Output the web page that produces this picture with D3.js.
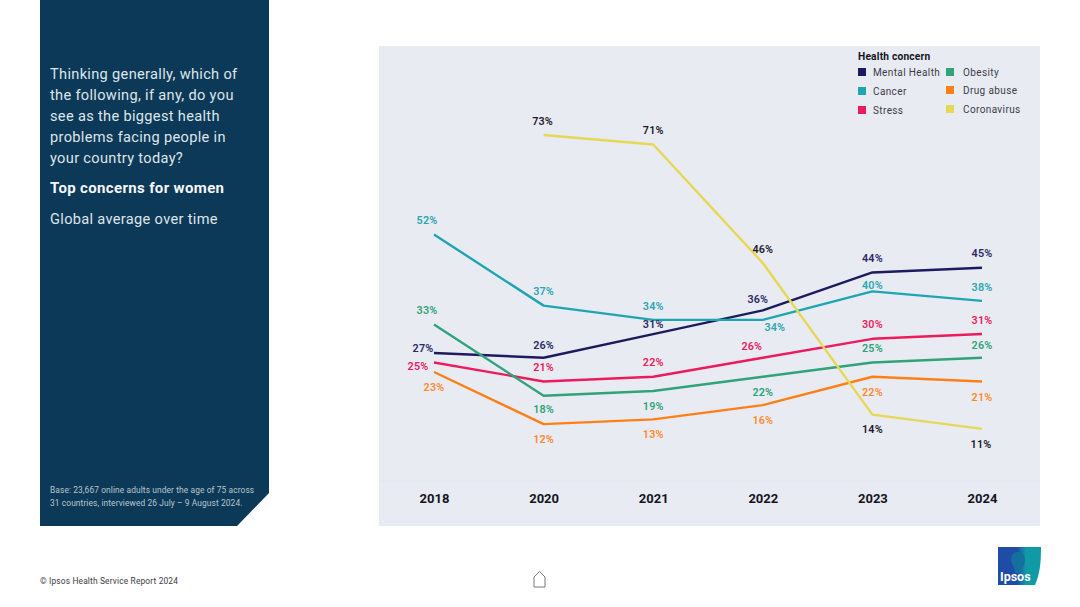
<!DOCTYPE html>
<html>
<head>
<meta charset="utf-8">
<title>Top concerns for women</title>
<script src="https://cdn.jsdelivr.net/npm/d3@7"></script>
<style>
  html, body { margin: 0; background: #fff; }
  svg { display: block; }
  text { font-family: Roboto, "Noto Sans", sans-serif; }
</style>
</head>
<body>
<svg id="chart" width="1080" height="607"></svg>
<script>
const years = ["2018", "2020", "2021", "2022", "2023", "2024"];

const mentalHealth = [27, 26, 31, 36, 44, 45];
const cancer = [52, 37, 34, 34, 40, 38];
const stress = [25, 21, 22, 26, 30, 31];
const obesity = [33, 18, 19, 22, 25, 26];
const drugAbuse = [23, 12, 13, 16, 22, 21];
const coronavirus = [null, 73, 71, 46, 14, 11];

const questionLines = [
  "Thinking generally, which of",
  "the following, if any, do you",
  "see as the biggest health",
  "problems facing people in",
  "your country today?"
];
const baseLines = [
  "Base: 23,667 online adults under the age of 75 across",
  "31 countries, interviewed 26 July – 9 August 2024."
];

const series = [
  { name: "Mental Health", values: mentalHealth, color: "#1c1b5e", label: "#2a2965" },
  { name: "Cancer", values: cancer, color: "#1fa5b2", label: "#2ba6b2" },
  { name: "Stress", values: stress, color: "#ec1c5c", label: "#ec1c5c" },
  { name: "Obesity", values: obesity, color: "#2ea478", label: "#2ea478" },
  { name: "Drug abuse", values: drugAbuse, color: "#ff7f17", label: "#ff8a2a" },
  { name: "Coronavirus", values: coronavirus, color: "#e6d854", label: "#1a1a2a" }
];

// label nudges from the point, one [dx, dy] per year
const labelNudge = {
  "Mental Health": [[-11, -5], [0, -13], [0, -10], [-5, -11], [0, -14], [0, -14]],
  "Cancer": [[-7, -14], [0, -14], [0, -14], [12, 7], [0, -6], [0, -14]],
  "Stress": [[-16, 4], [0, -14], [0, -15], [-11, -12], [0, -15], [0, -14]],
  "Obesity": [[-7, -14], [0, 14], [0, 15], [0, 15], [0, -14], [0, -13]],
  "Drug abuse": [[0, 15], [0, 15], [0, 15], [0, 15], [0, 15], [0, 16]],
  "Coronavirus": [null, [-1, -14], [0, -14], [0, -14], [0, 15], [-1, 15]]
};

const svg = d3.select("#chart");

// left panel with the cut corner
svg.append("path")
  .attr("d", d3.line()([[40, 0], [269, 0], [269, 493], [237, 526], [40, 526]]) + "Z")
  .attr("fill", "#0c3957");

svg.append("g").selectAll("text").data(questionLines).join("text")
  .attr("x", 50)
  .attr("y", (d, i) => 79 + i * 21.1)
  .attr("font-size", 14.6)
  .attr("letter-spacing", 0.32)
  .attr("fill", "#dfe5ea")
  .text(d => d);

svg.append("text")
  .attr("x", 50).attr("y", 193)
  .attr("font-size", 15)
  .attr("font-weight", 700)
  .attr("letter-spacing", 0.35)
  .attr("fill", "#f4f6f8")
  .text("Top concerns for women");

svg.append("text")
  .attr("x", 50).attr("y", 224)
  .attr("font-size", 14.6)
  .attr("letter-spacing", 0.32)
  .attr("fill", "#dfe5ea")
  .text("Global average over time");

svg.append("g").selectAll("text").data(baseLines).join("text")
  .attr("x", 50)
  .attr("y", (d, i) => 493 + i * 13)
  .attr("font-size", 8.4)
  .attr("letter-spacing", 0.1)
  .attr("fill", "#b9c6d1")
  .text(d => d);

// plot background
svg.append("rect")
  .attr("x", 379).attr("y", 46)
  .attr("width", 661).attr("height", 480)
  .attr("fill", "#e9ebf3");

const x = d3.scalePoint().domain(years).range([434, 982]);
const y = d3.scaleLinear().domain([0, 73]).range([481, 135]);

svg.append("line")
  .attr("x1", 379).attr("x2", 1040)
  .attr("y1", y(0)).attr("y2", y(0))
  .attr("stroke", "#e4e6ef");

const axis = svg.append("g")
  .attr("transform", `translate(0,${y(0)})`)
  .call(d3.axisBottom(x).tickSize(0).tickPadding(12.5));
axis.select(".domain").remove();
axis.selectAll("text")
  .attr("font-size", 13)
  .attr("font-weight", 700)
  .attr("fill", "#14141e")
  .style("font-family", "Roboto, sans-serif");

const line = d3.line()
  .defined(d => d !== null)
  .x((d, i) => x(years[i]))
  .y(d => y(d));

svg.append("g").selectAll("path").data(series).join("path")
  .attr("d", d => line(d.values))
  .attr("fill", "none")
  .attr("stroke", d => d.color)
  .attr("stroke-width", 2.4)
  .attr("stroke-linejoin", "round");

series.forEach(s => {
  svg.append("g").selectAll("text")
    .data(s.values.map((v, i) => ({ v, i })).filter(d => d.v !== null))
    .join("text")
    .attr("x", d => x(years[d.i]) + labelNudge[s.name][d.i][0])
    .attr("y", d => y(d.v) + labelNudge[s.name][d.i][1])
    .attr("dy", "0.35em")
    .attr("text-anchor", "middle")
    .attr("font-size", 10.8)
    .attr("font-weight", 600)
    .attr("letter-spacing", 0.15)
    .attr("fill", s.label)
    .text(d => d.v + "%");
});

// legend
svg.append("text")
  .attr("x", 858).attr("y", 60)
  .attr("font-size", 10.2)
  .attr("font-weight", 700)
  .attr("letter-spacing", 0.2)
  .attr("fill", "#14141e")
  .text("Health concern");

const legendX = d3.scaleOrdinal().domain([0, 1]).range([858, 946]);
const legendY = d3.scalePoint().domain([0, 1, 2]).range([72, 110]);

svg.append("g").selectAll("g").data(series).join("g")
  .attr("transform", (d, i) => `translate(${legendX(i < 3 ? 0 : 1)},${legendY(i % 3) - (i > 3 ? 1 : 0)})`)
  .each(function (d, i) {
    const g = d3.select(this);
    g.append("rect")
      .attr("x", 0).attr("y", -4)
      .attr("width", 8).attr("height", 8)
      .attr("fill", d.color);
    g.append("text")
      .attr("x", i < 3 ? 15 : 17).attr("dy", "0.35em")
      .attr("font-size", 10)
      .attr("letter-spacing", 0.38)
      .attr("fill", "#3a3c4a")
      .text(d.name);
  });

// footer
svg.append("text")
  .attr("x", 40).attr("y", 584)
  .attr("font-size", 8.4)
  .attr("letter-spacing", 0.16)
  .attr("fill", "#3c3c44")
  .text("© Ipsos Health Service Report 2024");

// home icon
svg.append("path")
  .attr("d", "M534 587 V577 L539.5 571.5 L545 577 V587 Z")
  .attr("fill", "#fff")
  .attr("stroke", "#77777c")
  .attr("stroke-width", 1);

// logo
const defs = svg.append("defs");
const grad = defs.append("linearGradient").attr("id", "logoGrad");
grad.append("stop").attr("offset", "0.45").attr("stop-color", "#1f4da6");
grad.append("stop").attr("offset", "0.65").attr("stop-color", "#0f9aa6");
const logo = svg.append("g");
logo.append("path")
  .attr("d", "M998 547 H1041 C1041 562 1040 574 1035 585 H998 Z")
  .attr("fill", "url(#logoGrad)");
logo.append("path")
  .attr("d", "M1018 552 C1012 552 1010 558 1012 563 C1014 567 1015 570 1015 573 H1021 C1021 569 1025 565 1025 560 C1025 555 1022 552 1018 552 Z")
  .attr("fill", "#14719f");
logo.append("text")
  .attr("x", 1000).attr("y", 581)
  .attr("font-size", 12.5)
  .attr("font-weight", 700)
  .attr("fill", "#fff")
  .text("Ipsos");
</script>
</body>
</html>
